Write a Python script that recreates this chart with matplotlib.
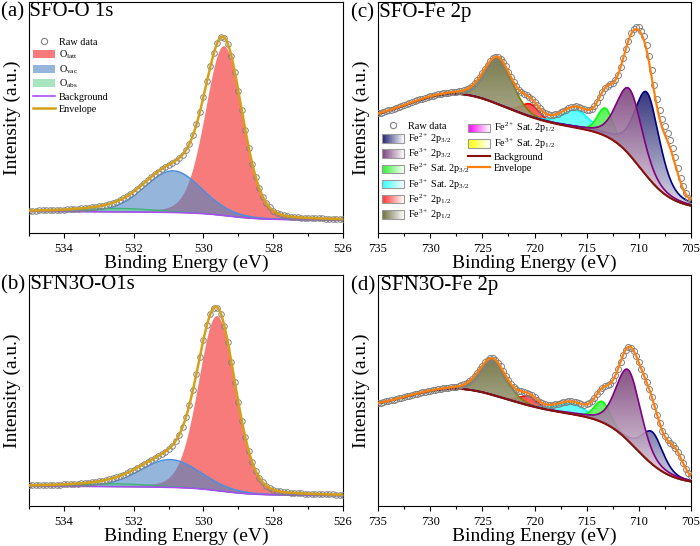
import numpy as np
import matplotlib
matplotlib.use('Agg')
import matplotlib.pyplot as plt
from matplotlib.patches import Patch, Polygon, Rectangle
from matplotlib.lines import Line2D
from matplotlib.legend_handler import HandlerBase
from matplotlib.colors import to_rgb
from matplotlib.ticker import MultipleLocator

plt.rcParams['font.family'] = ['Liberation Serif', 'DejaVu Serif']
plt.rcParams['mathtext.fontset'] = 'custom'
plt.rcParams['mathtext.rm'] = 'Liberation Serif'
plt.rcParams['mathtext.it'] = 'Liberation Serif:italic'
plt.rcParams['mathtext.default'] = 'rm'

# binding energies of the measured points
o_energy = np.round(np.arange(526.0, 535.05, 0.1), 1)
fe_energy = np.arange(705.0, 735.01, 0.25)

# raw data (a.u.)
a_raw = [6.0, 6.1, 6.1, 6.1, 6.2, 6.2, 6.3, 6.3, 6.4, 6.4,
         6.5, 6.6, 6.7, 6.8, 6.9, 7.1, 7.3, 7.6, 8.1, 8.7,
         9.7, 11.1, 13.1, 15.8, 19.4, 24.1, 29.9, 36.8, 44.7, 53.1,
         61.6, 69.7, 76.7, 81.9, 84.6, 84.8, 82.4, 78.0, 72.2, 65.6,
         58.9, 52.5, 47.0, 42.3, 38.6, 35.9, 33.8, 32.4, 31.3, 30.4,
         29.6, 28.7, 27.7, 26.6, 25.5, 24.2, 22.9, 21.6, 20.3, 19.1,
         17.9, 16.9, 15.9, 15.0, 14.3, 13.6, 13.1, 12.6, 12.2, 11.9,
         11.6, 11.4, 11.1, 11.0, 10.8, 10.7, 10.5, 10.4, 10.3, 10.2,
         10.1, 10.1, 10.0, 9.9, 9.9, 9.8, 9.8, 9.8, 9.7, 9.7,
         9.7]
b_raw = [4.9, 4.9, 4.9, 5.0, 5.0, 5.1, 5.1, 5.2, 5.2, 5.3,
         5.3, 5.4, 5.5, 5.5, 5.6, 5.7, 5.9, 6.1, 6.3, 6.6,
         7.1, 7.8, 8.8, 10.2, 12.3, 15.1, 18.9, 23.7, 29.7, 36.9,
         45.0, 53.7, 62.5, 70.8, 77.9, 83.2, 85.9, 85.9, 83.2, 78.4,
         72.0, 64.7, 57.3, 50.3, 43.9, 38.5, 34.1, 30.7, 28.1, 26.1,
         24.6, 23.5, 22.5, 21.6, 20.8, 19.9, 19.1, 18.2, 17.4, 16.5,
         15.7, 15.0, 14.2, 13.6, 13.0, 12.5, 12.0, 11.6, 11.3, 11.0,
         10.7, 10.5, 10.3, 10.1, 10.0, 9.8, 9.7, 9.6, 9.5, 9.4,
         9.4, 9.3, 9.2, 9.2, 9.1, 9.1, 9.1, 9.0, 9.0, 9.0,
         9.0]
c_raw = [14.3, 15.3, 17.5, 20.5, 24.0, 28.3, 32.8, 36.8, 40.3, 43.3,
         46.2, 49.4, 53.2, 58.2, 64.2, 70.6, 76.6, 81.6, 85.3, 87.6,
         89.0, 89.3, 88.4, 86.6, 83.2, 79.6, 75.6, 71.7, 68.5, 66.3,
         65.0, 64.4, 63.8, 62.8, 61.0, 58.8, 56.6, 54.9, 53.8, 53.3,
         53.4, 53.7, 54.2, 54.6, 54.8, 54.7, 54.4, 54.0, 53.4, 52.8,
         52.2, 51.7, 51.3, 51.1, 51.1, 51.3, 51.9, 52.8, 54.0, 55.3,
         56.7, 57.9, 58.9, 59.6, 60.2, 60.9, 62.0, 63.5, 65.4, 67.5,
         69.8, 72.1, 74.0, 75.4, 76.2, 76.2, 75.6, 74.4, 72.9, 71.1,
         69.3, 67.6, 66.1, 64.8, 63.7, 62.9, 62.3, 61.9, 61.6, 61.3,
         61.2, 61.0, 60.9, 60.8, 60.6, 60.4, 60.2, 60.0, 59.7, 59.5,
         59.2, 58.8, 58.5, 58.2, 57.8, 57.4, 57.0, 56.6, 56.2, 55.8,
         55.4, 55.0, 54.6, 54.2, 53.8, 53.4, 53.1, 52.7, 52.4, 52.1,
         51.8]
d_raw = [12.9, 14.3, 16.2, 18.5, 21.0, 23.2, 25.0, 26.3, 27.3, 28.4,
         30.1, 32.5, 35.8, 39.6, 43.5, 47.2, 50.5, 53.5, 56.4, 59.3,
         62.2, 64.9, 67.2, 68.6, 68.8, 67.7, 65.4, 62.4, 59.3, 56.5,
         54.4, 53.0, 52.3, 51.9, 51.2, 50.0, 48.4, 46.7, 45.3, 44.4,
         44.0, 43.9, 44.2, 44.5, 44.9, 45.1, 45.3, 45.3, 45.1, 44.9,
         44.6, 44.3, 44.0, 43.9, 43.8, 43.8, 44.1, 44.6, 45.2, 46.1,
         47.0, 47.9, 48.6, 49.1, 49.4, 49.6, 49.9, 50.5, 51.5, 52.8,
         54.5, 56.4, 58.5, 60.4, 62.1, 63.3, 63.9, 63.9, 63.3, 62.2,
         60.8, 59.2, 57.7, 56.3, 55.0, 54.0, 53.2, 52.6, 52.2, 51.9,
         51.6, 51.5, 51.3, 51.2, 51.1, 50.9, 50.8, 50.6, 50.4, 50.2,
         50.0, 49.8, 49.5, 49.3, 49.0, 48.7, 48.4, 48.1, 47.8, 47.5,
         47.2, 46.9, 46.6, 46.3, 46.1, 45.8, 45.5, 45.3, 45.0, 44.8,
         44.6]

# ---- O 1s fits: peak centre (eV), height, FWHM (eV), lorentz fraction ----
# order: O_latt, O_vac, O_abs
a_centers = [529.42, 530.87, 532.4]
a_heights = [73.5, 18.0, 1.5]
a_fwhm = [1.25, 1.9, 2.5]
a_lfrac = [0.15, 0.1, 0.0]
a_bg = [5.6, 8.5, 529.3, 0.45, 0.1]   # low, high, step centre, step width, slope

b_centers = [529.62, 530.95, 532.5]
b_heights = [75.8, 12.0, 1.2]
b_fwhm = [1.25, 2.0, 2.5]
b_lfrac = [0.15, 0.1, 0.0]
b_bg = [4.5, 7.6, 529.5, 0.45, 0.12]

# ---- Fe 2p fits ----
# order: Fe2+ 2p3/2, Fe3+ 2p3/2, Fe2+ sat 2p3/2, Fe3+ sat 2p3/2, Fe2+ 2p1/2, Fe3+ 2p1/2
c_centers = [709.2, 710.9, 713.2, 716.0, 720.4, 723.5]
c_heights = [36.3, 28.5, 12.0, 7.5, 5.5, 20.0]
c_fwhm = [2.8, 2.9, 1.8, 3.2, 2.0, 3.2]
c_lfrac = [0.4, 0.3, 0.2, 0.2, 0.2, 0.2]
c_extra = [[710.3, 9.0, 2.6], [707.0, 12.0, 1.8]]   # unlabelled parts of the envelope
c_bg = [10.5, 33.5, 709.8, 1.5, 0.12, 13.5, 727.5, 4.8]

d_centers = [708.7, 711.0, 713.5, 716.4, 720.6, 724.0]
d_heights = [14.0, 30.7, 9.0, 4.5, 4.0, 15.6]
d_fwhm = [2.4, 2.8, 1.8, 3.2, 2.0, 3.0]
d_lfrac = [0.3, 0.3, 0.2, 0.2, 0.2, 0.2]
d_extra = [[709.8, 11.0, 3.5], [706.5, 9.0, 1.8]]
d_bg = [9.5, 29.0, 710.2, 1.6, 0.1, 10.0, 727.5, 4.8]

o_labels = ['O$_{latt}$', 'O$_{vac}$', 'O$_{abs}$']
fe_labels = ['Fe$^{2+}$ 2p$_{3/2}$', 'Fe$^{3+}$ 2p$_{3/2}$', 'Fe$^{2+}$ Sat. 2p$_{3/2}$',
             'Fe$^{3+}$ Sat. 2p$_{3/2}$', 'Fe$^{2+}$ 2p$_{1/2}$', 'Fe$^{3+}$ 2p$_{1/2}$']
fe_lines = ['#000080', '#800080', '#00ff00', '#00ffff', '#ff0000', '#808000']
fe_fills = ['#202070', '#7a407a', '#30f030', '#30ffff', '#ff3030', '#6e6e3c']
fe_order = [4, 5, 3, 2, 0, 1]


def pv(E, c, h, w, m):
    x = (E - c) / w
    return h * ((1 - m) * np.exp(-4 * np.log(2) * x ** 2) + m / (1 + 4 * x ** 2))


def o_bg(E, p):
    lo, hi, c, w, k = p
    return lo + (hi - lo) / (1 + np.exp(-(E - c) / w)) + k * (E - 526)


def fe_bg(E, p):
    a, s, c, w, k, hh, hc, hs = p
    return a + s / (1 + np.exp(-(E - c) / w)) + k * (E - 705) + hh * np.exp(-0.5 * ((E - hc) / hs) ** 2)


class GradHandler(HandlerBase):
    # legend box: colour on the left fading to white
    def create_artists(self, legend, orig_handle, xdescent, ydescent, width, height, fontsize, trans):
        rgb = np.array(to_rgb(orig_handle.get_facecolor()))
        n = 30
        arts = []
        for i in range(n):
            t = i / (n - 1)
            col = rgb * (1 - t) + t
            arts.append(Rectangle((-xdescent + width * i / n, -ydescent), width / n * 1.05, height,
                                  facecolor=col, edgecolor='none', lw=0, transform=trans))
        arts.append(Rectangle((-xdescent, -ydescent), width, height, facecolor='none',
                              edgecolor='#9a9a9a', lw=0.8, transform=trans))
        return arts


def grad_fill(ax, E, lower, upper, color, z):
    verts = np.concatenate([np.column_stack([E, upper]), np.column_stack([E[::-1], lower[::-1]])])
    poly = Polygon(verts, closed=True, facecolor='none', edgecolor='none')
    ax.add_patch(poly)
    t = np.linspace(0, 1, 256)[:, None, None]
    img = (1 - t) * np.ones(3) + t * np.array(to_rgb(color))
    im = ax.imshow(img, extent=(E.min(), E.max(), 0, upper.max()), origin='lower',
                   aspect='auto', zorder=z, alpha=0.9, interpolation='bilinear')
    im.set_clip_path(poly)


def style_axes(ax, xlim, major, minor):
    ax.set_xlim(*xlim)
    ax.set_ylim(0, 100)
    ax.set_yticks([])
    ax.xaxis.set_major_locator(MultipleLocator(major))
    ax.xaxis.set_minor_locator(MultipleLocator(minor))
    ax.tick_params(axis='x', which='major', direction='out', length=3.5, width=0.8, labelsize=9, pad=3.5)
    ax.tick_params(axis='x', which='minor', direction='out', length=2, width=0.8)
    for s in ax.spines.values():
        s.set_linewidth(0.8)
    ax.set_xlabel('Binding Energy (eV)', fontsize=14, labelpad=0)
    ax.set_ylabel('Intensity (a.u.)', fontsize=14, labelpad=6)


def o_panel(ax, raw, cen, hgt, fw, lf, bgp):
    E = np.linspace(526, 535, 901)
    bg = o_bg(E, bgp)
    comps = [pv(E, c, h, w, m) for c, h, w, m in zip(cen, hgt, fw, lf)]
    ax.fill_between(E, bg, bg + comps[0], color='#f77b7b', lw=0, zorder=2)
    ax.fill_between(E, bg, bg + comps[1], color='#4e84c4', alpha=0.6, lw=0, zorder=3)
    ax.plot(E, bg + comps[1], color='#4a8fe0', lw=1.1, zorder=3.1)
    ax.fill_between(E, bg, bg + comps[2], color='#60d090', alpha=0.55, lw=0, zorder=4)
    ax.plot(E, bg + comps[2], color='#3cb371', lw=0.9, zorder=4.1)
    ax.plot(E, bg, color='#a64ff0', lw=1.2, zorder=5)
    ax.plot(o_energy, raw, 'o', mfc='none', mec='#808080', ms=4, mew=0.7, zorder=6)
    ax.plot(E, bg + sum(comps), color='#d4a017', lw=1.8, zorder=7)
    style_axes(ax, (535, 526), 2, 1)


def fe_panel(ax, raw, cen, hgt, fw, lf, extra, bgp):
    E = np.linspace(705, 735, 1501)
    bg = fe_bg(E, bgp)
    comps = [pv(E, c, h, w, m) for c, h, w, m in zip(cen, hgt, fw, lf)]
    z = 2
    for i in fe_order:
        grad_fill(ax, E, bg, bg + comps[i], fe_fills[i], z)
        ax.plot(E, bg + comps[i], color=fe_lines[i], lw=1.2, zorder=z + 0.05)
        z += 0.1
    ax.plot(E, bg, color='#8b1010', lw=1.5, zorder=4)
    env = bg + sum(comps) + sum(pv(E, c, h, w, 0) for c, h, w in extra)
    ax.plot(fe_energy, raw, 'o', mfc='none', mec='#808080', ms=4.3, mew=0.7, zorder=5)
    ax.plot(E, env, color='#ff7f0e', lw=1.6, zorder=6)
    style_axes(ax, (735, 705), 5, 2.5)


W, H = 700, 546
fig = plt.figure(figsize=(7, 5.46), dpi=100)


def px_axes(l, t, r, b):
    return fig.add_axes([l / W, 1 - b / H, (r - l) / W, (b - t) / H])


ax_a = px_axes(29, 2, 343, 233)
ax_b = px_axes(29, 275, 343, 506)
ax_c = px_axes(378, 2, 691, 233)
ax_d = px_axes(378, 275, 691, 506)

o_panel(ax_a, a_raw, a_centers, a_heights, a_fwhm, a_lfrac, a_bg)
o_panel(ax_b, b_raw, b_centers, b_heights, b_fwhm, b_lfrac, b_bg)
fe_panel(ax_c, c_raw, c_centers, c_heights, c_fwhm, c_lfrac, c_extra, c_bg)
fe_panel(ax_d, d_raw, d_centers, d_heights, d_fwhm, d_lfrac, d_extra, d_bg)

for txt, x, y in [('(a) SFO-O 1s', 1, 2), ('(b) SFN3O-O1s', 1, 275),
                  ('(c) SFO-Fe 2p', 351, 2), ('(d) SFN3O-Fe 2p', 351, 275)]:
    fig.text(x / W, 1 - y / H, txt, fontsize=15, ha='left', va='top')

raw_handle = Line2D([], [], marker='o', ls='none', mfc='none', mec='#808080', ms=4.5, mew=0.8)
leg_kw = dict(loc='upper left', bbox_transform=fig.transFigure, frameon=False, borderpad=0,
              borderaxespad=0, fontsize=7.3, handlelength=2.2, handleheight=0.9, handletextpad=0.35)

o_handles = [raw_handle, Patch(facecolor='#f77b7b'), Patch(facecolor='#95b5dc'),
             Patch(facecolor='#a6e5c0'), Line2D([], [], color='#a64ff0', lw=1.2),
             Line2D([], [], color='#d4a017', lw=1.8)]
ax_a.legend(o_handles, ['Raw data'] + o_labels + ['Background', 'Envelope'],
            bbox_to_anchor=(33 / W, 1 - 37 / H), labelspacing=0.2, **leg_kw)

fe_handles = [raw_handle] + [Patch(facecolor=c) for c in fe_fills]
leg1 = ax_c.legend(fe_handles, ['Raw data'] + fe_labels, bbox_to_anchor=(382 / W, 1 - 121 / H),
                   labelspacing=0.08, handler_map={Patch: GradHandler()}, **leg_kw)
ax_c.add_artist(leg1)
fe_handles2 = [Patch(facecolor='#ff00ff'), Patch(facecolor='#ffff00'),
               Line2D([], [], color='#8b1010', lw=1.5), Line2D([], [], color='#ff7f0e', lw=1.6)]
ax_c.legend(fe_handles2, ['Fe$^{2+}$ Sat. 2p$_{1/2}$', 'Fe$^{3+}$ Sat. 2p$_{1/2}$', 'Background', 'Envelope'],
            bbox_to_anchor=(468 / W, 1 - 121 / H), labelspacing=0.12,
            handler_map={Patch: GradHandler()}, **leg_kw)

fig.savefig('out.png', dpi=100)
